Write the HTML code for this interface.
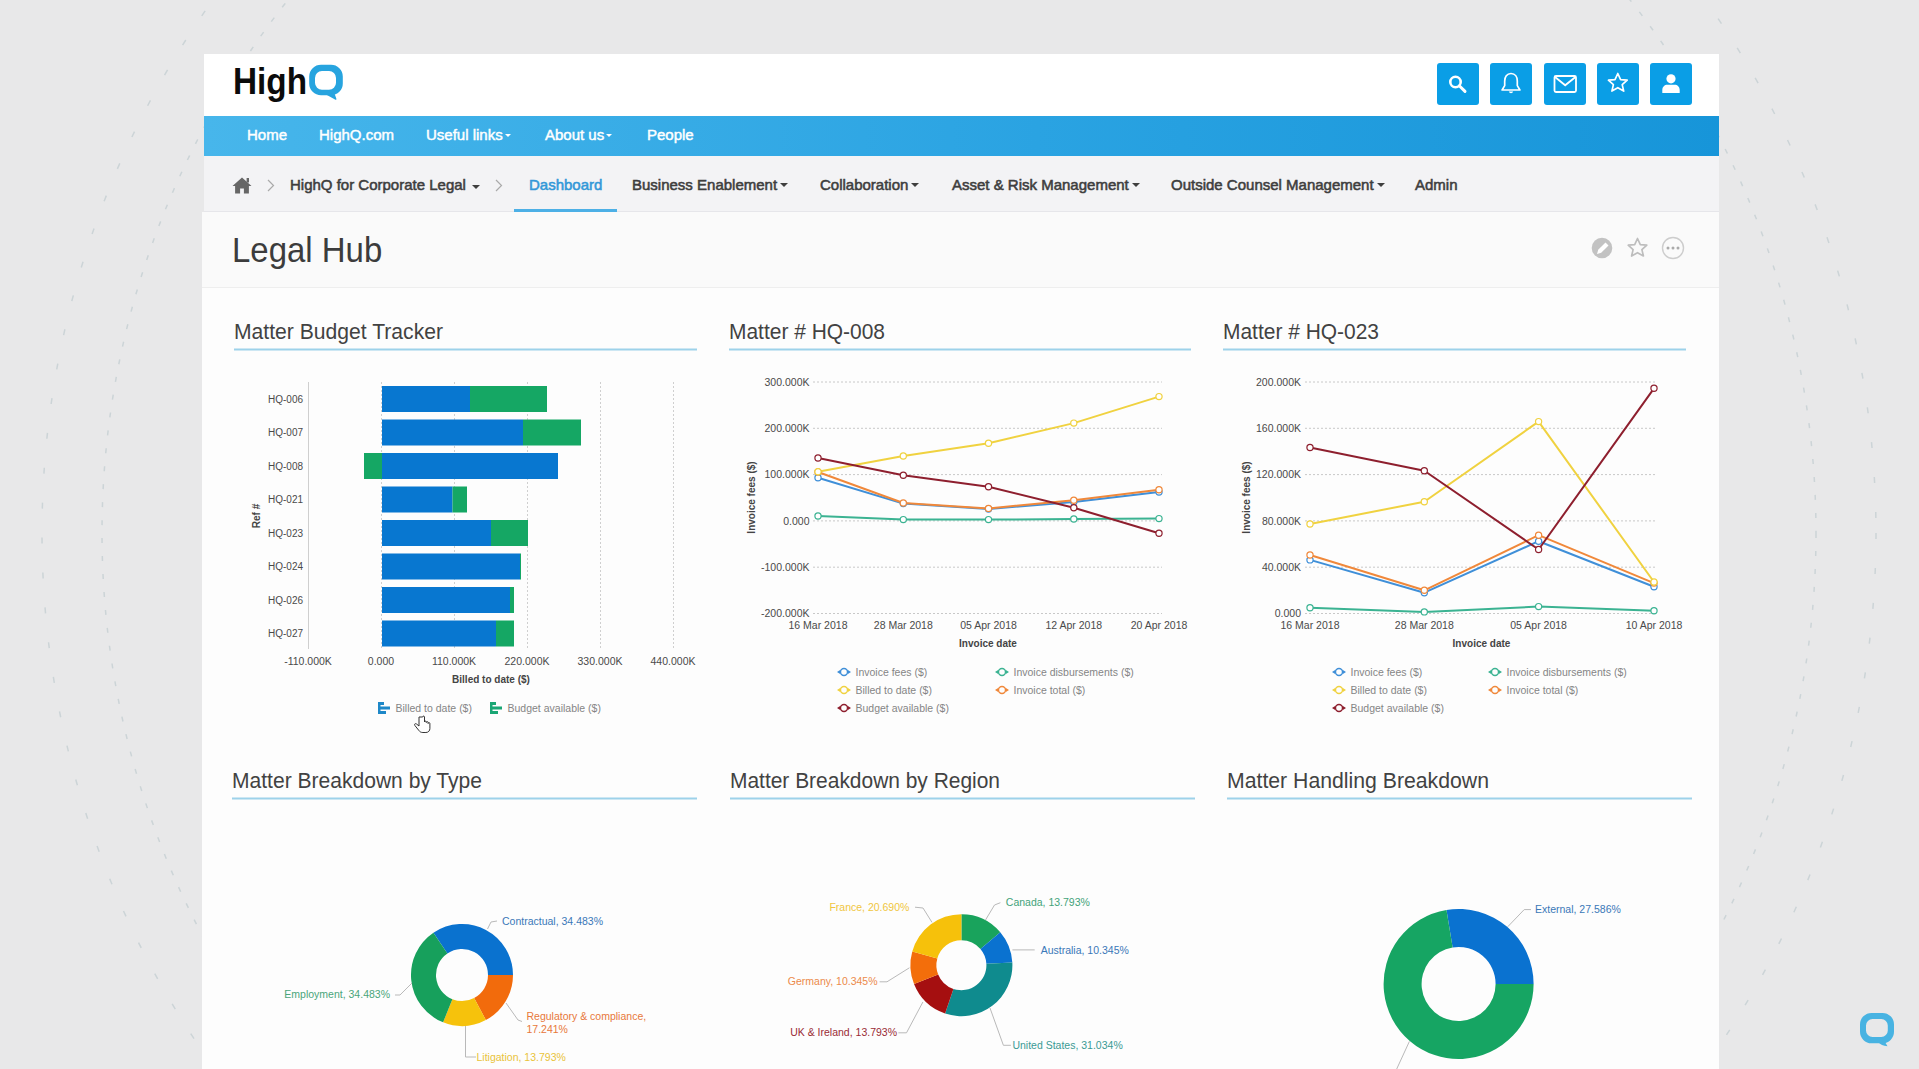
<!DOCTYPE html>
<html><head><meta charset="utf-8">
<style>
*{margin:0;padding:0;box-sizing:border-box}
html,body{width:1919px;height:1069px;overflow:hidden;background:#e8e8e9;font-family:"Liberation Sans",sans-serif}
svg{position:absolute;left:0;top:0;overflow:visible}
#panel{position:absolute;left:201.5px;top:212px;width:1517px;height:857px;background:#fdfdfd}
#hdr{position:absolute;left:204px;top:54px;width:1515px;height:62px;background:#fff}
#nav{position:absolute;left:204px;top:116px;width:1515px;height:40px;background:linear-gradient(90deg,#47b6eb 0%,#2aa3e2 55%,#1795d9 100%)}
.nv{position:absolute;top:126px;color:#fff;font-size:15px;-webkit-text-stroke:0.45px #fff;white-space:nowrap;line-height:17px}
#bc{position:absolute;left:204px;top:156px;width:1515px;height:56px;background:#f3f3f5;border-bottom:1px solid #e6e6ea}
.bc{position:absolute;top:176px;color:#3e3e3e;font-size:15px;-webkit-text-stroke-width:0.55px;white-space:nowrap;line-height:17px}
#ttl{position:absolute;left:201.5px;top:212px;width:1517.5px;height:76px;background:#fafafa;border-bottom:1px solid #eeeeee}
.btn{position:absolute;top:63px;width:42px;height:42px;background:#0a9ee6;border-radius:3px}
.btn svg{position:absolute;left:0;top:0}
.wt{position:absolute;font-size:21px;color:#333;white-space:nowrap;line-height:24px}
.ul{position:absolute;height:2px;background:#8fcdea}
.car{display:inline-block;width:0;height:0;border-left:4px solid transparent;border-right:4px solid transparent;border-top:4px solid currentColor;vertical-align:middle;margin-left:3px;position:relative;top:-1px}
</style></head><body>
<svg width="1919" height="1069" viewBox="0 0 1919 1069">
<g fill="none" stroke="#ccd4d7" stroke-width="1.5">
<circle cx="959" cy="533" r="917" stroke-dasharray="6 29"/>
<circle cx="959" cy="533" r="857" stroke-dasharray="5 13"/>
</g>
</svg>
<div id="panel"></div>
<div id="hdr"></div>
<div id="nav"></div>
<div id="bc"></div>
<div id="ttl"></div>
<!-- logo -->
<svg width="1919" height="1069" viewBox="0 0 1919 1069">
<text x="233" y="94" font-family="Liberation Sans" font-weight="bold" font-size="37" fill="#0b0b0b" textLength="74" lengthAdjust="spacingAndGlyphs">High</text>
<path fill-rule="evenodd" fill="#27a4df" d="M321 64.8 h10 a11.8 11.8 0 0 1 11.8 11.8 v6.8 a11.8 11.8 0 0 1 -11.8 11.8 h-10 a11.8 11.8 0 0 1 -11.8 -11.8 v-6.8 a11.8 11.8 0 0 1 11.8 -11.8 z M322 71 a7 7 0 0 0 -7 7 v4.8 a7 7 0 0 0 7 7 h7 a7 7 0 0 0 7 -7 v-4.8 a7 7 0 0 0 -7 -7 z"/>
<path d="M326 94.5 L335 99.6 Q337 100.3 336.3 98.4 L334.5 93.5 z" fill="#27a4df"/>
</svg>
<!-- buttons -->
<div class="btn" style="left:1437px"><svg width="42" height="42" viewBox="0 0 42 42"><circle cx="18.5" cy="19" r="5.2" fill="none" stroke="#fff" stroke-width="2.6"/><path d="M22.3 22.8 L28 28.4" stroke="#fff" stroke-width="3" stroke-linecap="round"/></svg></div>
<div class="btn" style="left:1490px"><svg width="42" height="42" viewBox="0 0 42 42"><path d="M21 10.5 c-4.2 0 -6.3 3.5 -6.3 7.5 v4.6 l-2.6 4.4 h17.8 l-2.6 -4.4 v-4.6 c0 -4 -2.1 -7.5 -6.3 -7.5 z" fill="none" stroke="#fff" stroke-width="1.7" stroke-linejoin="round"/><path d="M18.8 28.6 a2.3 2.3 0 0 0 4.4 0 z" fill="#fff"/></svg></div>
<div class="btn" style="left:1543.5px"><svg width="42" height="42" viewBox="0 0 42 42"><rect x="10.5" y="13" width="21.5" height="16" rx="1.5" fill="none" stroke="#fff" stroke-width="1.8"/><path d="M11 14 L21.2 22.3 L31.5 14" fill="none" stroke="#fff" stroke-width="1.8"/></svg></div>
<div class="btn" style="left:1597px"><svg width="42" height="42" viewBox="0 0 42 42"><path d="M20.8 10.5 L23.6 16.6 L30.2 17.2 L25.2 21.6 L26.7 28.1 L20.8 24.7 L14.9 28.1 L16.4 21.6 L11.4 17.2 L18 16.6 Z" fill="none" stroke="#fff" stroke-width="1.7" stroke-linejoin="round"/></svg></div>
<div class="btn" style="left:1650px"><svg width="42" height="42" viewBox="0 0 42 42"><circle cx="21" cy="15.8" r="4.6" fill="#fff"/><path d="M12.3 30 v-3 c0 -3.3 2.4 -5.3 5 -5.3 h7.4 c2.6 0 5 2 5 5.3 v3 z" fill="#fff"/></svg></div>
<!-- nav -->
<div class="nv" style="left:247px">Home</div>
<div class="nv" style="left:319px">HighQ.com</div>
<div class="nv" style="left:426px">Useful links<span class="car" style="margin-left:2px;border-left-width:3.5px;border-right-width:3.5px;border-top-width:3.5px"></span></div>
<div class="nv" style="left:545px">About us<span class="car" style="margin-left:2px;border-left-width:3.5px;border-right-width:3.5px;border-top-width:3.5px"></span></div>
<div class="nv" style="left:647px">People</div>
<!-- breadcrumb -->
<svg width="1919" height="1069" viewBox="0 0 1919 1069">
<path d="M242 177.5 L232.5 186 h2.6 v7.5 h5 v-5 h3.8 v5 h5 v-7.5 h2.6 z" fill="#666"/>
<path d="M247.8 178 v4.5" stroke="#666" stroke-width="2.4"/>
<path d="M268 180 L273.5 185.5 L268 191" fill="none" stroke="#aaa" stroke-width="1.2"/>
<path d="M496 180 L501.5 185.5 L496 191" fill="none" stroke="#aaa" stroke-width="1.2"/>
<rect x="514" y="209" width="103" height="3" fill="#4db0e6"/>
</svg>
<div class="bc" style="left:290px">HighQ for Corporate Legal</div>
<div class="bc" style="left:472px;top:178px"><span class="car" style="margin:0"></span></div>
<div class="bc" style="left:529px;color:#3398d8">Dashboard</div>
<div class="bc" style="left:632px">Business Enablement<span class="car"></span></div>
<div class="bc" style="left:820px">Collaboration<span class="car"></span></div>
<div class="bc" style="left:952px">Asset &amp; Risk Management<span class="car"></span></div>
<div class="bc" style="left:1171px">Outside Counsel Management<span class="car"></span></div>
<div class="bc" style="left:1415px">Admin</div>
<!-- title -->
<div style="position:absolute;left:232px;top:231px;font-size:34.5px;line-height:38px;color:#3c3c3c;white-space:nowrap;transform:scaleX(0.955);transform-origin:0 0">Legal Hub</div>
<svg width="1919" height="1069" viewBox="0 0 1919 1069">
<circle cx="1602" cy="248" r="10.3" fill="#c2c2c2"/>
<path d="M1597 254 l1.2 -4.2 l7.3 -7.3 l3 3 l-7.3 7.3 z" fill="#fff"/>
<path d="M1637.5 238.5 L1640.3 244.6 L1646.8 245.2 L1641.9 249.6 L1643.4 256 L1637.5 252.7 L1631.6 256 L1633.1 249.6 L1628.2 245.2 L1634.7 244.6 Z" fill="none" stroke="#bdbdbd" stroke-width="1.7" stroke-linejoin="round"/>
<circle cx="1673" cy="248" r="10.5" fill="none" stroke="#cdcdcd" stroke-width="1.4"/>
<circle cx="1668" cy="248" r="1.5" fill="#aaa"/><circle cx="1673" cy="248" r="1.5" fill="#aaa"/><circle cx="1678" cy="248" r="1.5" fill="#aaa"/>
</svg>
<svg width="1919" height="1069" viewBox="0 0 1919 1069" font-family="Liberation Sans">
<text x="234" y="338.5" font-size="22" fill="#424242" textLength="209" lengthAdjust="spacingAndGlyphs">Matter Budget Tracker</text>
<rect x="234" y="348.5" width="463" height="2" fill="#9dd2ea"/>
<text x="729" y="338.5" font-size="22" fill="#424242" textLength="156" lengthAdjust="spacingAndGlyphs">Matter # HQ-008</text>
<rect x="729" y="348.5" width="462" height="2" fill="#9dd2ea"/>
<text x="1223" y="338.5" font-size="22" fill="#424242" textLength="156" lengthAdjust="spacingAndGlyphs">Matter # HQ-023</text>
<rect x="1223" y="348.5" width="463" height="2" fill="#9dd2ea"/>
<text x="232" y="787.5" font-size="22" fill="#424242" textLength="250" lengthAdjust="spacingAndGlyphs">Matter Breakdown by Type</text>
<rect x="232" y="797.5" width="465" height="2" fill="#9dd2ea"/>
<text x="730" y="787.5" font-size="22" fill="#424242" textLength="270" lengthAdjust="spacingAndGlyphs">Matter Breakdown by Region</text>
<rect x="730" y="797.5" width="465" height="2" fill="#9dd2ea"/>
<text x="1227" y="787.5" font-size="22" fill="#424242" textLength="262" lengthAdjust="spacingAndGlyphs">Matter Handling Breakdown</text>
<rect x="1227" y="797.5" width="465" height="2" fill="#9dd2ea"/>
<g>
<line x1="308.5" y1="382" x2="308.5" y2="649" stroke="#cfcfcf" stroke-width="1"/>
<line x1="381.5" y1="382" x2="381.5" y2="649" stroke="#cfcfcf" stroke-width="1" stroke-dasharray="2 2"/>
<line x1="454.5" y1="382" x2="454.5" y2="649" stroke="#cfcfcf" stroke-width="1" stroke-dasharray="2 2"/>
<line x1="527.5" y1="382" x2="527.5" y2="649" stroke="#cfcfcf" stroke-width="1" stroke-dasharray="2 2"/>
<line x1="600.5" y1="382" x2="600.5" y2="649" stroke="#cfcfcf" stroke-width="1" stroke-dasharray="2 2"/>
<line x1="673.5" y1="382" x2="673.5" y2="649" stroke="#cfcfcf" stroke-width="1" stroke-dasharray="2 2"/>
<rect x="382" y="386.0" width="88" height="26" fill="#0877d0"/>
<rect x="470" y="386.0" width="77" height="26" fill="#15a764"/>
<text x="303" y="402.6" font-size="10" fill="#4a4a4a" text-anchor="end">HQ-006</text>
<rect x="382" y="419.5" width="141" height="26" fill="#0877d0"/>
<rect x="523" y="419.5" width="58" height="26" fill="#15a764"/>
<text x="303" y="436.1" font-size="10" fill="#4a4a4a" text-anchor="end">HQ-007</text>
<rect x="382" y="453.0" width="176" height="26" fill="#0877d0"/>
<rect x="364" y="453.0" width="18" height="26" fill="#15a764"/>
<text x="303" y="469.6" font-size="10" fill="#4a4a4a" text-anchor="end">HQ-008</text>
<rect x="382" y="486.5" width="70.5" height="26" fill="#0877d0"/>
<rect x="452.5" y="486.5" width="14.5" height="26" fill="#15a764"/>
<text x="303" y="503.1" font-size="10" fill="#4a4a4a" text-anchor="end">HQ-021</text>
<rect x="382" y="520.0" width="109" height="26" fill="#0877d0"/>
<rect x="491" y="520.0" width="37" height="26" fill="#15a764"/>
<text x="303" y="536.6" font-size="10" fill="#4a4a4a" text-anchor="end">HQ-023</text>
<rect x="382" y="553.5" width="138" height="26" fill="#0877d0"/>
<rect x="520" y="553.5" width="1" height="26" fill="#15a764"/>
<text x="303" y="570.1" font-size="10" fill="#4a4a4a" text-anchor="end">HQ-024</text>
<rect x="382" y="587.0" width="128" height="26" fill="#0877d0"/>
<rect x="510" y="587.0" width="4" height="26" fill="#15a764"/>
<text x="303" y="603.6" font-size="10" fill="#4a4a4a" text-anchor="end">HQ-026</text>
<rect x="382" y="620.5" width="114" height="26" fill="#0877d0"/>
<rect x="496" y="620.5" width="18" height="26" fill="#15a764"/>
<text x="303" y="637.1" font-size="10" fill="#4a4a4a" text-anchor="end">HQ-027</text>
<text x="308" y="664.7" font-size="10.5" fill="#4a4a4a" text-anchor="middle">-110.000K</text>
<text x="381" y="664.7" font-size="10.5" fill="#4a4a4a" text-anchor="middle">0.000</text>
<text x="454" y="664.7" font-size="10.5" fill="#4a4a4a" text-anchor="middle">110.000K</text>
<text x="527" y="664.7" font-size="10.5" fill="#4a4a4a" text-anchor="middle">220.000K</text>
<text x="600" y="664.7" font-size="10.5" fill="#4a4a4a" text-anchor="middle">330.000K</text>
<text x="673" y="664.7" font-size="10.5" fill="#4a4a4a" text-anchor="middle">440.000K</text>
<text x="491" y="683" font-size="10" font-weight="bold" fill="#444" text-anchor="middle">Billed to date ($)</text>
<text x="0" y="0" font-size="10" font-weight="bold" fill="#444" text-anchor="middle" transform="translate(259.5 516) rotate(-90)">Ref #</text>
<rect x="378" y="702" width="2.5" height="12" fill="#1e88c8"/><rect x="378" y="702" width="6" height="3" fill="#1e88c8"/><rect x="378" y="706.5" width="12" height="3" fill="#1e88c8"/><rect x="378" y="711" width="8" height="3" fill="#1e88c8"/>
<text x="395.5" y="711.6" font-size="10.5" fill="#858585">Billed to date ($)</text>
<rect x="490" y="702" width="2.5" height="12" fill="#1aa674"/><rect x="490" y="702" width="6" height="3" fill="#1aa674"/><rect x="490" y="706.5" width="12" height="3" fill="#1aa674"/><rect x="490" y="711" width="8" height="3" fill="#1aa674"/>
<text x="507.5" y="711.6" font-size="10.5" fill="#858585">Budget available ($)</text>
</g>
<path d="M419 717 v9 l-2.5 -2 c-1.2 -1 -2.6 0.3 -1.6 1.5 l4 5 c1 1.3 2 2 4 2 h3 c2.5 0 4 -1.8 4 -4 v-5 c0 -1.2 -1.8 -1.2 -1.8 0 v-1 c0 -1.2 -1.8 -1.2 -1.8 0 v-0.5 c0 -1.2 -1.8 -1.2 -1.8 0 v-5 c0 -1.2 -1.8 -1.2 -1.8 0 z" fill="#fff" stroke="#333" stroke-width="1"/>
<line x1="813" y1="382" x2="1162" y2="382" stroke="#c8c8c8" stroke-width="1" stroke-dasharray="2 2"/>
<text x="809.5" y="385.7" font-size="10.5" fill="#4a4a4a" text-anchor="end">300.000K</text>
<line x1="813" y1="428.3" x2="1162" y2="428.3" stroke="#c8c8c8" stroke-width="1" stroke-dasharray="2 2"/>
<text x="809.5" y="432.0" font-size="10.5" fill="#4a4a4a" text-anchor="end">200.000K</text>
<line x1="813" y1="474.6" x2="1162" y2="474.6" stroke="#c8c8c8" stroke-width="1" stroke-dasharray="2 2"/>
<text x="809.5" y="478.3" font-size="10.5" fill="#4a4a4a" text-anchor="end">100.000K</text>
<line x1="813" y1="520.9" x2="1162" y2="520.9" stroke="#c8c8c8" stroke-width="1" stroke-dasharray="2 2"/>
<text x="809.5" y="524.6" font-size="10.5" fill="#4a4a4a" text-anchor="end">0.000</text>
<line x1="813" y1="567.2" x2="1162" y2="567.2" stroke="#c8c8c8" stroke-width="1" stroke-dasharray="2 2"/>
<text x="809.5" y="570.9000000000001" font-size="10.5" fill="#4a4a4a" text-anchor="end">-100.000K</text>
<line x1="813" y1="613.5" x2="1162" y2="613.5" stroke="#c8c8c8" stroke-width="1" stroke-dasharray="2 2"/>
<text x="809.5" y="617.2" font-size="10.5" fill="#4a4a4a" text-anchor="end">-200.000K</text>
<text x="818" y="628.7" font-size="10.5" fill="#4a4a4a" text-anchor="middle">16 Mar 2018</text>
<text x="903.3" y="628.7" font-size="10.5" fill="#4a4a4a" text-anchor="middle">28 Mar 2018</text>
<text x="988.5" y="628.7" font-size="10.5" fill="#4a4a4a" text-anchor="middle">05 Apr 2018</text>
<text x="1073.8" y="628.7" font-size="10.5" fill="#4a4a4a" text-anchor="middle">12 Apr 2018</text>
<text x="1159" y="628.7" font-size="10.5" fill="#4a4a4a" text-anchor="middle">20 Apr 2018</text>
<text x="988" y="646.6" font-size="10" font-weight="bold" fill="#444" text-anchor="middle">Invoice date</text>
<text x="0" y="0" font-size="10" font-weight="bold" fill="#444" text-anchor="middle" transform="translate(755 497.5) rotate(-90)">Invoice fees ($)</text>
<polyline points="818,516 903.3,519.6 988.5,519.6 1073.8,519 1159,518.6" fill="none" stroke="#3bb392" stroke-width="2" stroke-linejoin="round"/>
<polyline points="818,477.7 903.3,503.6 988.5,509 1073.8,502 1159,492" fill="none" stroke="#3f8fd8" stroke-width="2" stroke-linejoin="round"/>
<polyline points="818,472 903.3,503 988.5,508.4 1073.8,500.2 1159,489.7" fill="none" stroke="#f0883a" stroke-width="2" stroke-linejoin="round"/>
<polyline points="818,471.8 903.3,456 988.5,443.3 1073.8,423.1 1159,396.6" fill="none" stroke="#f0d240" stroke-width="2" stroke-linejoin="round"/>
<polyline points="818,458 903.3,475.2 988.5,486.7 1073.8,507.7 1159,533.2" fill="none" stroke="#8e1f2e" stroke-width="2" stroke-linejoin="round"/>
<circle cx="818" cy="516" r="3.1" fill="#fff" stroke="#3bb392" stroke-width="1.2"/>
<circle cx="903.3" cy="519.6" r="3.1" fill="#fff" stroke="#3bb392" stroke-width="1.2"/>
<circle cx="988.5" cy="519.6" r="3.1" fill="#fff" stroke="#3bb392" stroke-width="1.2"/>
<circle cx="1073.8" cy="519" r="3.1" fill="#fff" stroke="#3bb392" stroke-width="1.2"/>
<circle cx="1159" cy="518.6" r="3.1" fill="#fff" stroke="#3bb392" stroke-width="1.2"/>
<circle cx="818" cy="477.7" r="3.1" fill="#fff" stroke="#3f8fd8" stroke-width="1.2"/>
<circle cx="903.3" cy="503.6" r="3.1" fill="#fff" stroke="#3f8fd8" stroke-width="1.2"/>
<circle cx="988.5" cy="509" r="3.1" fill="#fff" stroke="#3f8fd8" stroke-width="1.2"/>
<circle cx="1073.8" cy="502" r="3.1" fill="#fff" stroke="#3f8fd8" stroke-width="1.2"/>
<circle cx="1159" cy="492" r="3.1" fill="#fff" stroke="#3f8fd8" stroke-width="1.2"/>
<circle cx="818" cy="472" r="3.1" fill="#fff" stroke="#f0883a" stroke-width="1.2"/>
<circle cx="903.3" cy="503" r="3.1" fill="#fff" stroke="#f0883a" stroke-width="1.2"/>
<circle cx="988.5" cy="508.4" r="3.1" fill="#fff" stroke="#f0883a" stroke-width="1.2"/>
<circle cx="1073.8" cy="500.2" r="3.1" fill="#fff" stroke="#f0883a" stroke-width="1.2"/>
<circle cx="1159" cy="489.7" r="3.1" fill="#fff" stroke="#f0883a" stroke-width="1.2"/>
<circle cx="818" cy="471.8" r="3.1" fill="#fff" stroke="#f0d240" stroke-width="1.2"/>
<circle cx="903.3" cy="456" r="3.1" fill="#fff" stroke="#f0d240" stroke-width="1.2"/>
<circle cx="988.5" cy="443.3" r="3.1" fill="#fff" stroke="#f0d240" stroke-width="1.2"/>
<circle cx="1073.8" cy="423.1" r="3.1" fill="#fff" stroke="#f0d240" stroke-width="1.2"/>
<circle cx="1159" cy="396.6" r="3.1" fill="#fff" stroke="#f0d240" stroke-width="1.2"/>
<circle cx="818" cy="458" r="3.1" fill="#fff" stroke="#8e1f2e" stroke-width="1.2"/>
<circle cx="903.3" cy="475.2" r="3.1" fill="#fff" stroke="#8e1f2e" stroke-width="1.2"/>
<circle cx="988.5" cy="486.7" r="3.1" fill="#fff" stroke="#8e1f2e" stroke-width="1.2"/>
<circle cx="1073.8" cy="507.7" r="3.1" fill="#fff" stroke="#8e1f2e" stroke-width="1.2"/>
<circle cx="1159" cy="533.2" r="3.1" fill="#fff" stroke="#8e1f2e" stroke-width="1.2"/>
<path d="M837 672 L840.5 669.8 L840.5 674.2 Z M851 672 L847.5 669.8 L847.5 674.2 Z" fill="#3f8fd8"/><circle cx="844" cy="672" r="3.5" fill="#fdfdfd" stroke="#3f8fd8" stroke-width="1.4"/>
<text x="855.5" y="675.7" font-size="10.5" fill="#858585">Invoice fees ($)</text>
<path d="M995 672 L998.5 669.8 L998.5 674.2 Z M1009 672 L1005.5 669.8 L1005.5 674.2 Z" fill="#3bb392"/><circle cx="1002" cy="672" r="3.5" fill="#fdfdfd" stroke="#3bb392" stroke-width="1.4"/>
<text x="1013.5" y="675.7" font-size="10.5" fill="#858585">Invoice disbursements ($)</text>
<path d="M837 690 L840.5 687.8 L840.5 692.2 Z M851 690 L847.5 687.8 L847.5 692.2 Z" fill="#f0d240"/><circle cx="844" cy="690" r="3.5" fill="#fdfdfd" stroke="#f0d240" stroke-width="1.4"/>
<text x="855.5" y="693.7" font-size="10.5" fill="#858585">Billed to date ($)</text>
<path d="M995 690 L998.5 687.8 L998.5 692.2 Z M1009 690 L1005.5 687.8 L1005.5 692.2 Z" fill="#f0883a"/><circle cx="1002" cy="690" r="3.5" fill="#fdfdfd" stroke="#f0883a" stroke-width="1.4"/>
<text x="1013.5" y="693.7" font-size="10.5" fill="#858585">Invoice total ($)</text>
<path d="M837 708 L840.5 705.8 L840.5 710.2 Z M851 708 L847.5 705.8 L847.5 710.2 Z" fill="#8e1f2e"/><circle cx="844" cy="708" r="3.5" fill="#fdfdfd" stroke="#8e1f2e" stroke-width="1.4"/>
<text x="855.5" y="711.7" font-size="10.5" fill="#858585">Budget available ($)</text>
<line x1="1305" y1="382" x2="1656" y2="382" stroke="#c8c8c8" stroke-width="1" stroke-dasharray="2 2"/>
<text x="1301" y="385.7" font-size="10.5" fill="#4a4a4a" text-anchor="end">200.000K</text>
<line x1="1305" y1="428.3" x2="1656" y2="428.3" stroke="#c8c8c8" stroke-width="1" stroke-dasharray="2 2"/>
<text x="1301" y="432.0" font-size="10.5" fill="#4a4a4a" text-anchor="end">160.000K</text>
<line x1="1305" y1="474.6" x2="1656" y2="474.6" stroke="#c8c8c8" stroke-width="1" stroke-dasharray="2 2"/>
<text x="1301" y="478.3" font-size="10.5" fill="#4a4a4a" text-anchor="end">120.000K</text>
<line x1="1305" y1="520.9" x2="1656" y2="520.9" stroke="#c8c8c8" stroke-width="1" stroke-dasharray="2 2"/>
<text x="1301" y="524.6" font-size="10.5" fill="#4a4a4a" text-anchor="end">80.000K</text>
<line x1="1305" y1="567.2" x2="1656" y2="567.2" stroke="#c8c8c8" stroke-width="1" stroke-dasharray="2 2"/>
<text x="1301" y="570.9000000000001" font-size="10.5" fill="#4a4a4a" text-anchor="end">40.000K</text>
<line x1="1305" y1="613.5" x2="1656" y2="613.5" stroke="#c8c8c8" stroke-width="1" stroke-dasharray="2 2"/>
<text x="1301" y="617.2" font-size="10.5" fill="#4a4a4a" text-anchor="end">0.000</text>
<text x="1310" y="628.7" font-size="10.5" fill="#4a4a4a" text-anchor="middle">16 Mar 2018</text>
<text x="1424.3" y="628.7" font-size="10.5" fill="#4a4a4a" text-anchor="middle">28 Mar 2018</text>
<text x="1538.6" y="628.7" font-size="10.5" fill="#4a4a4a" text-anchor="middle">05 Apr 2018</text>
<text x="1654" y="628.7" font-size="10.5" fill="#4a4a4a" text-anchor="middle">10 Apr 2018</text>
<text x="1481.5" y="646.6" font-size="10" font-weight="bold" fill="#444" text-anchor="middle">Invoice date</text>
<text x="0" y="0" font-size="10" font-weight="bold" fill="#444" text-anchor="middle" transform="translate(1249.5 497.5) rotate(-90)">Invoice fees ($)</text>
<polyline points="1310,607.8 1424.3,611.9 1538.6,606.6 1654,610.7" fill="none" stroke="#3bb392" stroke-width="2" stroke-linejoin="round"/>
<polyline points="1310,559.9 1424.3,592.7 1538.6,541.2 1654,586.7" fill="none" stroke="#3f8fd8" stroke-width="2" stroke-linejoin="round"/>
<polyline points="1310,555 1424.3,590.3 1538.6,535.2 1654,583.1" fill="none" stroke="#f0883a" stroke-width="2" stroke-linejoin="round"/>
<polyline points="1310,524 1424.3,501.7 1538.6,421.6 1654,582" fill="none" stroke="#f0d240" stroke-width="2" stroke-linejoin="round"/>
<polyline points="1310,447.5 1424.3,470.7 1538.6,549.5 1654,388.3" fill="none" stroke="#8e1f2e" stroke-width="2" stroke-linejoin="round"/>
<circle cx="1310" cy="607.8" r="3.1" fill="#fff" stroke="#3bb392" stroke-width="1.2"/>
<circle cx="1424.3" cy="611.9" r="3.1" fill="#fff" stroke="#3bb392" stroke-width="1.2"/>
<circle cx="1538.6" cy="606.6" r="3.1" fill="#fff" stroke="#3bb392" stroke-width="1.2"/>
<circle cx="1654" cy="610.7" r="3.1" fill="#fff" stroke="#3bb392" stroke-width="1.2"/>
<circle cx="1310" cy="559.9" r="3.1" fill="#fff" stroke="#3f8fd8" stroke-width="1.2"/>
<circle cx="1424.3" cy="592.7" r="3.1" fill="#fff" stroke="#3f8fd8" stroke-width="1.2"/>
<circle cx="1538.6" cy="541.2" r="3.1" fill="#fff" stroke="#3f8fd8" stroke-width="1.2"/>
<circle cx="1654" cy="586.7" r="3.1" fill="#fff" stroke="#3f8fd8" stroke-width="1.2"/>
<circle cx="1310" cy="555" r="3.1" fill="#fff" stroke="#f0883a" stroke-width="1.2"/>
<circle cx="1424.3" cy="590.3" r="3.1" fill="#fff" stroke="#f0883a" stroke-width="1.2"/>
<circle cx="1538.6" cy="535.2" r="3.1" fill="#fff" stroke="#f0883a" stroke-width="1.2"/>
<circle cx="1654" cy="583.1" r="3.1" fill="#fff" stroke="#f0883a" stroke-width="1.2"/>
<circle cx="1310" cy="524" r="3.1" fill="#fff" stroke="#f0d240" stroke-width="1.2"/>
<circle cx="1424.3" cy="501.7" r="3.1" fill="#fff" stroke="#f0d240" stroke-width="1.2"/>
<circle cx="1538.6" cy="421.6" r="3.1" fill="#fff" stroke="#f0d240" stroke-width="1.2"/>
<circle cx="1654" cy="582" r="3.1" fill="#fff" stroke="#f0d240" stroke-width="1.2"/>
<circle cx="1310" cy="447.5" r="3.1" fill="#fff" stroke="#8e1f2e" stroke-width="1.2"/>
<circle cx="1424.3" cy="470.7" r="3.1" fill="#fff" stroke="#8e1f2e" stroke-width="1.2"/>
<circle cx="1538.6" cy="549.5" r="3.1" fill="#fff" stroke="#8e1f2e" stroke-width="1.2"/>
<circle cx="1654" cy="388.3" r="3.1" fill="#fff" stroke="#8e1f2e" stroke-width="1.2"/>
<path d="M1332 672 L1335.5 669.8 L1335.5 674.2 Z M1346 672 L1342.5 669.8 L1342.5 674.2 Z" fill="#3f8fd8"/><circle cx="1339" cy="672" r="3.5" fill="#fdfdfd" stroke="#3f8fd8" stroke-width="1.4"/>
<text x="1350.5" y="675.7" font-size="10.5" fill="#858585">Invoice fees ($)</text>
<path d="M1488 672 L1491.5 669.8 L1491.5 674.2 Z M1502 672 L1498.5 669.8 L1498.5 674.2 Z" fill="#3bb392"/><circle cx="1495" cy="672" r="3.5" fill="#fdfdfd" stroke="#3bb392" stroke-width="1.4"/>
<text x="1506.5" y="675.7" font-size="10.5" fill="#858585">Invoice disbursements ($)</text>
<path d="M1332 690 L1335.5 687.8 L1335.5 692.2 Z M1346 690 L1342.5 687.8 L1342.5 692.2 Z" fill="#f0d240"/><circle cx="1339" cy="690" r="3.5" fill="#fdfdfd" stroke="#f0d240" stroke-width="1.4"/>
<text x="1350.5" y="693.7" font-size="10.5" fill="#858585">Billed to date ($)</text>
<path d="M1488 690 L1491.5 687.8 L1491.5 692.2 Z M1502 690 L1498.5 687.8 L1498.5 692.2 Z" fill="#f0883a"/><circle cx="1495" cy="690" r="3.5" fill="#fdfdfd" stroke="#f0883a" stroke-width="1.4"/>
<text x="1506.5" y="693.7" font-size="10.5" fill="#858585">Invoice total ($)</text>
<path d="M1332 708 L1335.5 705.8 L1335.5 710.2 Z M1346 708 L1342.5 705.8 L1342.5 710.2 Z" fill="#8e1f2e"/><circle cx="1339" cy="708" r="3.5" fill="#fdfdfd" stroke="#8e1f2e" stroke-width="1.4"/>
<text x="1350.5" y="711.7" font-size="10.5" fill="#858585">Budget available ($)</text>
<path d="M433.41 932.77 A51 51 0 0 1 513.00 975.03 L488.00 975.02 A26 26 0 0 0 447.42 953.47 Z" fill="#0a72cf"/>
<path d="M513.00 975.03 A51 51 0 0 1 485.86 1020.07 L474.16 997.98 A26 26 0 0 0 488.00 975.02 Z" fill="#f26b0c"/>
<path d="M485.86 1020.07 A51 51 0 0 1 443.09 1022.37 L452.36 999.15 A26 26 0 0 0 474.16 997.98 Z" fill="#f6c20c"/>
<path d="M443.09 1022.37 A51 51 0 0 1 433.41 932.77 L447.42 953.47 A26 26 0 0 0 452.36 999.15 Z" fill="#17a05c"/>
<path d="M961.40 914.20 A51 51 0 0 1 1000.27 932.18 L980.45 949.02 A25 25 0 0 0 961.40 940.20 Z" fill="#19a35c"/>
<path d="M1000.27 932.18 A51 51 0 0 1 1012.33 962.44 L986.36 963.85 A25 25 0 0 0 980.45 949.02 Z" fill="#0a72d0"/>
<path d="M1012.33 962.44 A51 51 0 0 1 945.12 1013.53 L953.42 988.89 A25 25 0 0 0 986.36 963.85 Z" fill="#0f8b8e"/>
<path d="M945.12 1013.53 A51 51 0 0 1 914.02 984.08 L938.18 974.45 A25 25 0 0 0 953.42 988.89 Z" fill="#a50f10"/>
<path d="M914.02 984.08 A51 51 0 0 1 912.26 951.56 L937.31 958.51 A25 25 0 0 0 938.18 974.45 Z" fill="#f36e0b"/>
<path d="M912.26 951.56 A51 51 0 0 1 961.40 914.20 L961.40 940.20 A25 25 0 0 0 937.31 958.51 Z" fill="#f6c10b"/>
<path d="M1446.48 909.99 A75 75 0 0 1 1533.60 984.01 L1495.60 984.01 A37 37 0 0 0 1452.62 947.49 Z" fill="#0a72d0"/>
<path d="M1533.60 984.01 A75 75 0 1 1 1446.48 909.99 L1452.62 947.49 A37 37 0 1 0 1495.60 984.01 Z" fill="#16a563"/>
<polyline points="497,921 491,922 487.5,929" fill="none" stroke="#b9b9b9" stroke-width="1"/>
<text x="502" y="925.1" font-size="10.5" fill="#3a78b8" text-anchor="start">Contractual, 34.483%</text>
<polyline points="395,995 400,995 412,983" fill="none" stroke="#b9b9b9" stroke-width="1"/>
<text x="390" y="998.2" font-size="10.5" fill="#4aa57a" text-anchor="end">Employment, 34.483%</text>
<polyline points="522,1021.5 518,1020 506,1003" fill="none" stroke="#b9b9b9" stroke-width="1"/>
<text x="526.5" y="1020.0" font-size="10.5" fill="#e8783a" text-anchor="start">Regulatory &amp; compliance,</text>
<text x="526.5" y="1033.1" font-size="10.5" fill="#e8783a" text-anchor="start">17.241%</text>
<polyline points="476,1057 465.5,1057 465.5,1026" fill="none" stroke="#b9b9b9" stroke-width="1"/>
<text x="476.5" y="1060.8999999999999" font-size="10.5" fill="#e9c33a" text-anchor="start">Litigation, 13.793%</text>
<polyline points="915,907.2 923,908 932,922.4" fill="none" stroke="#b9b9b9" stroke-width="1"/>
<text x="909.4" y="910.8000000000001" font-size="10.5" fill="#f0c640" text-anchor="end">France, 20.690%</text>
<polyline points="1000.4,902.7 994.5,905 985.5,920" fill="none" stroke="#b9b9b9" stroke-width="1"/>
<text x="1005.8" y="906.3000000000001" font-size="10.5" fill="#43a37a" text-anchor="start">Canada, 13.793%</text>
<polyline points="1034.7,949.9 1012.4,949.9" fill="none" stroke="#b9b9b9" stroke-width="1"/>
<text x="1040.7" y="953.5" font-size="10.5" fill="#3a78b8" text-anchor="start">Australia, 10.345%</text>
<polyline points="879.6,981.8 887,981.8 909.4,967.8" fill="none" stroke="#b9b9b9" stroke-width="1"/>
<text x="877.5" y="985.4" font-size="10.5" fill="#ec8a4a" text-anchor="end">Germany, 10.345%</text>
<polyline points="898.4,1032.8 906.5,1032.8 922.9,1002" fill="none" stroke="#b9b9b9" stroke-width="1"/>
<text x="897" y="1036.3999999999999" font-size="10.5" fill="#9a2b35" text-anchor="end">UK &amp; Ireland, 13.793%</text>
<polyline points="1010.9,1045.3 1003.4,1045.3 990,1008" fill="none" stroke="#b9b9b9" stroke-width="1"/>
<text x="1012.4" y="1048.8999999999999" font-size="10.5" fill="#3a9a94" text-anchor="start">United States, 31.034%</text>
<polyline points="1531,909.6 1524.2,909.6 1507.8,926.7" fill="none" stroke="#b9b9b9" stroke-width="1"/>
<text x="1535" y="913.2" font-size="10.5" fill="#3a78b8" text-anchor="start">External, 27.586%</text>
<polyline points="1409.4,1041.4 1396.7,1069" fill="none" stroke="#b9b9b9" stroke-width="1"/>
<path fill-rule="evenodd" fill="#48b3e2" d="M1871.5 1013 h11 a11.5 11.5 0 0 1 11.5 11.5 v7.3 a11.5 11.5 0 0 1 -11.5 11.5 h-11 a11.5 11.5 0 0 1 -11.5 -11.5 v-7.3 a11.5 11.5 0 0 1 11.5 -11.5 z M1872.5 1019 a6.5 6.5 0 0 0 -6.5 6.5 v5 a6.5 6.5 0 0 0 6.5 6.5 h8.8 a6.5 6.5 0 0 0 6.5 -6.5 v-5 a6.5 6.5 0 0 0 -6.5 -6.5 z"/>
<path d="M1878.5 1042.5 Q1881 1045.5 1887.5 1046.2 L1885 1042 z" fill="#48b3e2"/>
</svg></body></html>
